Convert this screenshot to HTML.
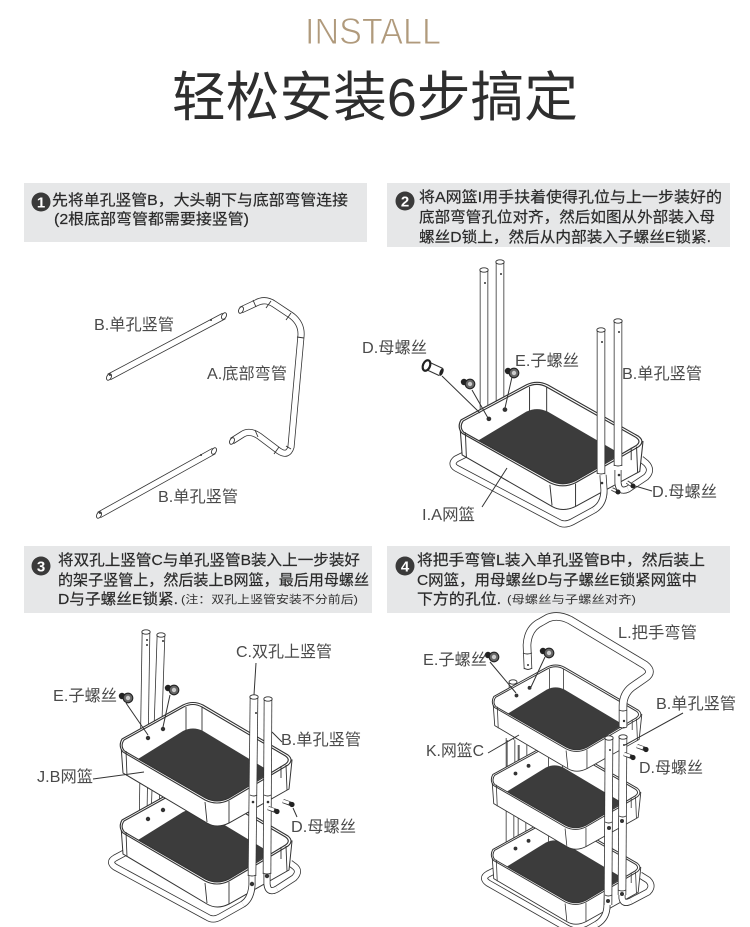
<!DOCTYPE html>
<html lang="zh"><head><meta charset="utf-8"><title>INSTALL</title>
<style>
html,body{margin:0;padding:0;background:#fff}
svg{display:block}
text{font-family:"Liberation Sans","Noto Sans CJK SC",sans-serif}
.l{font-size:16px;fill:#4a4a4a}
.b{font-size:15px;fill:#2a2a2a;stroke:#2a2a2a;stroke-width:.2}
.s{font-size:11px;fill:#333}
.n{font-size:15px;font-weight:bold;fill:#fff;text-anchor:middle}
.ln{fill:none;stroke:#333;stroke-width:1}
path.o{fill:none;stroke:#333;stroke-width:8.500}
path.i{fill:none;stroke:#fff;stroke-width:6.900}
path.o2{fill:none;stroke:#333;stroke-width:7}
path.i2{fill:none;stroke:#fff;stroke-width:5.400}
.c{fill:#fff;stroke:#333;stroke-width:.9}
.j{stroke:#333;stroke-width:.9;fill:none}
.h{fill:#333}
</style></head><body>
<svg width="750" height="927" viewBox="0 0 750 927" xmlns="http://www.w3.org/2000/svg">
<defs>
<g id="bk">
<path d="M0,3 L2,31 L86,81 Q96,87 108,81 L168,47 L171,18 Z" fill="#fff" stroke="#333" stroke-width="1"/>
<path d="M1,-3 L62,-37 Q72,-42 82,-37 L167,13 Q173,18 167,23 L108,58 Q96,64 84,58 L2,10 Q-3,4 1,-3 Z" fill="#fff" stroke="#333" stroke-width="1.100"/>
<path d="M65,-35 V-10 M81,-35 V-10 M165,23 L166,48 M160,24 L160,36" class="j"/>
<path d="M17,17 L62,-11 Q72,-16 82,-11 L150,30 L108,56 Q96,62 84.500,56 Z" fill="#3c3c3c"/>
<path d="M3,-2 L62.500,-35 Q72,-40 81,-35 L164.500,14 Q170,18 164.500,22 L108,56 Q96,62 84.500,56 L3.500,9 Q-1,4 3,-2 Z" fill="none" stroke="#333" stroke-width="1.100"/>
<path d="M5,9 L6,34 M84,60 L86,80 M108,59 V81" class="j"/>
<circle cx="27" cy="-4" r="2.200" class="h"/><circle cx="42" cy="-13" r="2.200" class="h"/>
</g>
<g id="scr"><circle cx="-6" cy="-2" r="3.200" fill="#222"/><circle cx="0" cy="0" r="4.800" fill="#666" stroke="#222" stroke-width="1.100"/><circle cx="0" cy="0" r="2.200" fill="#ccc"/></g>
<g id="blt"><path d="M-4,-1 L4,2" stroke="#333" stroke-width="4.400"/><path d="M-4,-1 L2,1" stroke="#fff" stroke-width="2.800"/><circle cx="5" cy="2.500" r="2.600" fill="#222"/></g>
</defs>

<!-- Title -->
<text x="305" y="44" font-size="37" fill="#b09a7c" stroke="#fff" stroke-width=".9" textLength="136" lengthAdjust="spacingAndGlyphs">INSTALL</text>
<text x="172" y="116" font-size="54" fill="#2e2e2e" textLength="406" lengthAdjust="spacingAndGlyphs">轻松安装6步搞定</text>

<!-- Instruction boxes -->
<rect x="24" y="183" width="343" height="59" fill="#e6e7e8"/>
<rect x="387" y="183" width="343" height="64" fill="#e6e7e8"/>
<rect x="24" y="546" width="348" height="67" fill="#e6e7e8"/>
<rect x="387" y="546" width="343" height="67" fill="#e6e7e8"/>

<circle cx="41" cy="202" r="9.500" fill="#3a3a3a"/><text x="41" y="207.500" class="n">1</text>
<circle cx="405" cy="201" r="9.500" fill="#3a3a3a"/><text x="405" y="206.500" class="n">2</text>
<circle cx="41" cy="566" r="9.500" fill="#3a3a3a"/><text x="41" y="571.500" class="n">3</text>
<circle cx="405" cy="566" r="9.500" fill="#3a3a3a"/><text x="405" y="571.500" class="n">4</text>

<text x="52" y="205" class="b" textLength="296" lengthAdjust="spacingAndGlyphs">先将单孔竖管B，大头朝下与底部弯管连接</text>
<text x="54" y="224" class="b" textLength="195" lengthAdjust="spacingAndGlyphs">(2根底部弯管都需要接竖管)</text>

<text x="419" y="202" class="b" textLength="303" lengthAdjust="spacingAndGlyphs">将A网篮I用手扶着使得孔位与上一步装好的</text>
<text x="419" y="222" class="b" textLength="296" lengthAdjust="spacingAndGlyphs">底部弯管孔位对齐，然后如图从外部装入母</text>
<text x="419" y="242" class="b" textLength="292" lengthAdjust="spacingAndGlyphs">螺丝D锁上，然后从内部装入子螺丝E锁紧.</text>

<text x="58" y="565" class="b" textLength="302" lengthAdjust="spacingAndGlyphs">将双孔上竖管C与单孔竖管B装入上一步装好</text>
<text x="58" y="585" class="b" textLength="311" lengthAdjust="spacingAndGlyphs">的架子竖管上，然后装上B网篮，最后用母螺丝</text>
<text x="58" y="604" class="b" textLength="120" lengthAdjust="spacingAndGlyphs">D与子螺丝E锁紧.</text>
<text x="181" y="603" class="s" textLength="177" lengthAdjust="spacingAndGlyphs">(注：双孔上竖管安装不分前后)</text>

<text x="417" y="565" class="b" textLength="288" lengthAdjust="spacingAndGlyphs">将把手弯管L装入单孔竖管B中，然后装上</text>
<text x="417" y="585" class="b" textLength="280" lengthAdjust="spacingAndGlyphs">C网篮，用母螺丝D与子螺丝E锁紧网篮中</text>
<text x="417" y="604" class="b" textLength="84" lengthAdjust="spacingAndGlyphs">下方的孔位.</text>
<text x="507" y="603" class="s" textLength="129" lengthAdjust="spacingAndGlyphs">(母螺丝与子螺丝对齐)</text>

<!-- Diagram 1 -->
<path class="o2" d="M109,377 L224,316"/><path class="i2" d="M109,377 L224,316"/>
<ellipse cx="224" cy="316" rx="2.200" ry="3.500" transform="rotate(28 224 316)" class="c"/>
<ellipse cx="109" cy="377" rx="2.200" ry="3.500" transform="rotate(28 109 377)" class="c"/>
<circle cx="211" cy="320" r="1" class="h"/><circle cx="110" cy="375" r="1" class="h"/>
<path class="o2" d="M99,515 L214,451"/><path class="i2" d="M99,515 L214,451"/>
<ellipse cx="214" cy="451" rx="2.200" ry="3.500" transform="rotate(28 214 451)" class="c"/>
<ellipse cx="99" cy="515" rx="2.200" ry="3.500" transform="rotate(28 99 515)" class="c"/>
<circle cx="201" cy="455" r="1" class="h"/><circle cx="100" cy="513" r="1" class="h"/>
<path class="o2" d="M241,310 L256,303 Q265,298 274,304 L292,316 Q302,324 301,336 L291,447 Q288,457 279,451 L259,436 Q250,430 243,434 L232,441"/>
<path class="i2" d="M241,310 L256,303 Q265,298 274,304 L292,316 Q302,324 301,336 L291,447 Q288,457 279,451 L259,436 Q250,430 243,434 L232,441"/>
<ellipse cx="241" cy="310" rx="2.200" ry="3.500" transform="rotate(25 241 310)" class="c"/>
<ellipse cx="232" cy="441" rx="2.200" ry="3.500" transform="rotate(25 232 441)" class="c"/>
<path class="j" d="M253,300 L256,307 M271,301 L266,308 M291,313 L286,320 M297,337 L304,338 M286,446 L291,449 M279,447 L274,454 M255,430 L258,437"/>
<text x="94" y="330" class="l" textLength="80" lengthAdjust="spacingAndGlyphs">B.单孔竖管</text>
<text x="207" y="379" class="l" textLength="80" lengthAdjust="spacingAndGlyphs">A.底部弯管</text>
<text x="158" y="502" class="l" textLength="80" lengthAdjust="spacingAndGlyphs">B.单孔竖管</text>

<!-- Diagram 2 -->
<path class="o2" d="M470,452 L456,459 Q450,464 456,468 L558,522 Q564,526 572,522 L594,510 Q604,504 604,490 L603,475"/>
<path class="i2" d="M470,452 L456,459 Q450,464 456,468 L558,522 Q564,526 572,522 L594,510 Q604,504 604,490 L603,475"/>
<path class="o" d="M484,270 V410"/><path class="i" d="M484,270 V410"/>
<path class="o" d="M500,262 V405"/><path class="i" d="M500,262 V405"/>
<ellipse cx="484" cy="270" rx="4.200" ry="2.200" class="c"/><ellipse cx="500" cy="262" rx="4.200" ry="2.200" class="c"/>
<circle cx="485" cy="283" r="1" class="h"/><circle cx="501" cy="274" r="1" class="h"/>
<path class="o2" d="M641,459 L646,463 Q653,470 646,477 L628,489 Q619,493 618,483 L618,470"/>
<path class="i2" d="M641,459 L646,463 Q653,470 646,477 L628,489 Q619,493 618,483 L618,470"/>
<use href="#bk" transform="translate(460,423) scale(1.07,1.030)"/>
<path class="o2" d="M628,489 Q619,493 618,483 L618,470"/><path class="i2" d="M628,489 Q619,493 618,483 L618,470"/>
<path class="o2" d="M594,510 Q604,504 604,490 L603,475"/><path class="i2" d="M594,510 Q604,504 604,490 L603,475"/>
<path class="o" d="M601,330 V474"/><path class="i" d="M601,330 V474"/>
<path class="o" d="M618,321 V466"/><path class="i" d="M618,321 V466"/>
<ellipse cx="601" cy="330" rx="4.200" ry="2.200" class="c"/><ellipse cx="618" cy="321" rx="4.200" ry="2.200" class="c"/>
<path class="j" d="M597,473 Q601,475 605,473 M614,465 Q618,467 622,465"/>
<circle cx="602" cy="342" r="1" class="h"/><circle cx="619" cy="332" r="1" class="h"/>
<circle cx="602" cy="483" r="1.300" class="h"/><circle cx="619" cy="475" r="1.300" class="h"/>
<path d="M612,489 L618,492 M627,482 L633,486" stroke="#333" stroke-width="3.600"/>
<path d="M612,489 L616,491 M627,482 L631,485" stroke="#fff" stroke-width="2"/>
<circle cx="618" cy="492" r="2.500" fill="#222"/><circle cx="633" cy="486" r="2.500" fill="#222"/>
<path class="ln" d="M635,486 L652,491 M507,468 L482,507 M442,376 L480,413 M472,390 L488,418 M512,377 L505,408"/>
<path d="M428,366 L441,372" stroke="#333" stroke-width="9"/><path d="M428,366 L441,372" stroke="#fff" stroke-width="7"/>
<ellipse cx="426.500" cy="365.500" rx="3.500" ry="5.500" transform="rotate(22 426.500 365.500)" fill="#fff" stroke="#222" stroke-width="2.200"/>
<ellipse cx="441.500" cy="372" rx="1.800" ry="4" transform="rotate(22 441.500 372)" fill="#222"/>
<use href="#scr" transform="translate(470,384)"/><use href="#scr" transform="translate(514,373)"/>
<text x="362" y="353" class="l" textLength="65" lengthAdjust="spacingAndGlyphs">D.母螺丝</text>
<text x="515" y="366" class="l" textLength="64" lengthAdjust="spacingAndGlyphs">E.子螺丝</text>
<text x="622" y="379" class="l" textLength="80" lengthAdjust="spacingAndGlyphs">B.单孔竖管</text>
<text x="652" y="497" class="l" textLength="65" lengthAdjust="spacingAndGlyphs">D.母螺丝</text>
<text x="422" y="520" class="l" textLength="53" lengthAdjust="spacingAndGlyphs">I.A网篮</text>

<!-- Diagram 3 -->
<path class="o2" d="M130,850 L115,858 Q108,862 115,867 L207,917 Q213,921 220,917 L243,904 Q251,899 252,885 L252,870"/>
<path class="i2" d="M130,850 L115,858 Q108,862 115,867 L207,917 Q213,921 220,917 L243,904 Q251,899 252,885 L252,870"/>
<path class="o2" d="M290,863 L294,866 Q301,871 294,878 L277,889 Q268,894 267,884 L267,873"/>
<path class="i2" d="M290,863 L294,866 Q301,871 294,878 L277,889 Q268,894 267,884 L267,873"/>
<path class="o" d="M146,632 L143,825"/><path class="i" d="M146,632 L143,825"/>
<path class="o" d="M161,635 L155,815"/><path class="i" d="M161,635 L155,815"/>
<ellipse cx="146" cy="632" rx="4.200" ry="2.200" class="c"/><ellipse cx="161" cy="635" rx="4.200" ry="2.200" class="c"/>
<circle cx="147" cy="640" r="1" class="h"/><circle cx="147" cy="645" r="1" class="h"/><circle cx="163" cy="641" r="1" class="h"/>
<use href="#bk" transform="translate(121,823)"/>
<use href="#bk" transform="translate(121,742)"/>
<path class="o2" d="M243,904 Q251,899 252,885 L252,870"/><path class="i2" d="M243,904 Q251,899 252,885 L252,870"/>
<path class="o2" d="M277,889 Q268,894 267,884 L267,873"/><path class="i2" d="M277,889 Q268,894 267,884 L267,873"/>
<path class="o" d="M254,697 L252,876"/><path class="i" d="M254,697 L252,876"/>
<path class="o" d="M268,699 L267,874"/><path class="i" d="M268,699 L267,874"/>
<ellipse cx="254" cy="697" rx="4.200" ry="2.200" class="c"/><ellipse cx="268" cy="699" rx="4.200" ry="2.200" class="c"/>
<path class="j" d="M250,795 Q254,797 257,795 M264,795 Q268,797 271,795 M248,875 Q252,877 256,875 M263,873 Q267,875 271,873"/>
<circle cx="256" cy="713" r="1" class="h"/><circle cx="253" cy="802" r="1.300" class="h"/><circle cx="268" cy="802" r="1.300" class="h"/>
<circle cx="252" cy="884" r="2.200" class="h"/><circle cx="267" cy="876" r="2.200" class="h"/>
<path class="ln" d="M93,779 L144,772 M256,663 L254,695 M272,732 L282,742 M297,817 L293,808 M126,703 L148,735 M170,695 L163,727"/>
<use href="#blt" transform="translate(272,809)"/><use href="#blt" transform="translate(287,802)"/>
<use href="#scr" transform="translate(128,698)"/><use href="#scr" transform="translate(174,690)"/>
<text x="236" y="657" class="l" textLength="96" lengthAdjust="spacingAndGlyphs">C.双孔上竖管</text>
<text x="53" y="701" class="l" textLength="64" lengthAdjust="spacingAndGlyphs">E.子螺丝</text>
<text x="281" y="745" class="l" textLength="80" lengthAdjust="spacingAndGlyphs">B.单孔竖管</text>
<text x="37" y="782" class="l" textLength="56" lengthAdjust="spacingAndGlyphs">J.B网篮</text>
<text x="291" y="832" class="l" textLength="65" lengthAdjust="spacingAndGlyphs">D.母螺丝</text>

<!-- Diagram 4 -->
<path class="o2" d="M500,868 L488,874 Q481,878 488,883 L565,927 Q578,935 590,928 L597,924 Q607,918 607,905 L608,880"/>
<path class="i2" d="M500,868 L488,874 Q481,878 488,883 L565,927 Q578,935 590,928 L597,924 Q607,918 607,905 L608,880"/>
<path class="o2" d="M640,875 L648,880 Q654,886 648,892 L631,901 Q623,905 622,898 L622,890"/>
<path class="i2" d="M640,875 L648,880 Q654,886 648,892 L631,901 Q623,905 622,898 L622,890"/>
<path class="o" d="M510,738 V865"/><path class="i" d="M510,738 V865"/>
<path class="o" d="M522,745 V850"/><path class="i" d="M522,745 V850"/>
<use href="#bk" transform="translate(492,852) scale(.87,.86)"/>
<path class="o" d="M511,740 V790"/><path class="i" d="M511,740 V790"/>
<path class="o" d="M523,745 V785"/><path class="i" d="M523,745 V785"/>
<use href="#bk" transform="translate(492,777) scale(.87,.86)"/>
<path class="o" d="M513,682 V700"/><path class="i" d="M513,682 V700"/>
<ellipse cx="513" cy="682" rx="4" ry="2.200" class="c"/>
<use href="#bk" transform="translate(493,699) scale(.87,.86)"/>
<path class="o2" d="M597,924 Q607,918 607,905 L608,880"/><path class="i2" d="M597,924 Q607,918 607,905 L608,880"/>
<path class="o2" d="M631,901 Q623,905 622,898 L622,890"/><path class="i2" d="M631,901 Q623,905 622,898 L622,890"/>
<path class="o" d="M528,669 L527,645 Q528,628 541,622 L548,618 Q558,614 570,620 L645,665 Q654,672 645,678 L632,687 Q623,694 623,706 L623,727"/>
<path class="i" d="M528,669 L527,645 Q528,628 541,622 L548,618 Q558,614 570,620 L645,665 Q654,672 645,678 L632,687 Q623,694 623,706 L623,727"/>
<path class="j" d="M523,653 Q527,655 532,653 M524,668 Q528,671 532,668 M619,710 Q623,712 627,710 M619,727 Q623,729 627,727"/>
<circle cx="528" cy="665" r="1" class="h"/><circle cx="624" cy="721" r="1.200" class="h"/>
<path class="o" d="M609,738 L608,905"/><path class="i" d="M609,738 L608,905"/>
<path class="o" d="M623,737 L622,895"/><path class="i" d="M623,737 L622,895"/>
<ellipse cx="609" cy="738" rx="4.200" ry="2.200" class="c"/><ellipse cx="623" cy="737" rx="4.200" ry="2.200" class="c"/>
<path class="j" d="M605,822 Q609,824 612,822 M619,816 Q623,818 626,816 M605,895 Q608,897 612,895 M618,890 Q622,892 626,890"/>
<circle cx="609" cy="828" r="2" class="h"/><circle cx="622" cy="821" r="2" class="h"/>
<circle cx="608" cy="901" r="2" class="h"/><circle cx="622" cy="894" r="2" class="h"/>
<circle cx="610" cy="750" r="1" class="h"/><circle cx="624" cy="745" r="1" class="h"/>
<path class="ln" d="M490,662 L516,693 M545,657 L531,687 M683,713 L625,745 M488,753 L519,735"/>
<use href="#blt" transform="translate(628,755)"/><use href="#blt" transform="translate(641,747)"/>
<use href="#scr" transform="translate(494,657)"/><use href="#scr" transform="translate(549,653)"/>
<text x="618" y="638" class="l" textLength="79" lengthAdjust="spacingAndGlyphs">L.把手弯管</text>
<text x="423" y="665" class="l" textLength="64" lengthAdjust="spacingAndGlyphs">E.子螺丝</text>
<text x="656" y="709" class="l" textLength="80" lengthAdjust="spacingAndGlyphs">B.单孔竖管</text>
<text x="426" y="756" class="l" textLength="58" lengthAdjust="spacingAndGlyphs">K.网篮C</text>
<text x="639" y="773" class="l" textLength="64" lengthAdjust="spacingAndGlyphs">D.母螺丝</text>
</svg>
</body></html>
